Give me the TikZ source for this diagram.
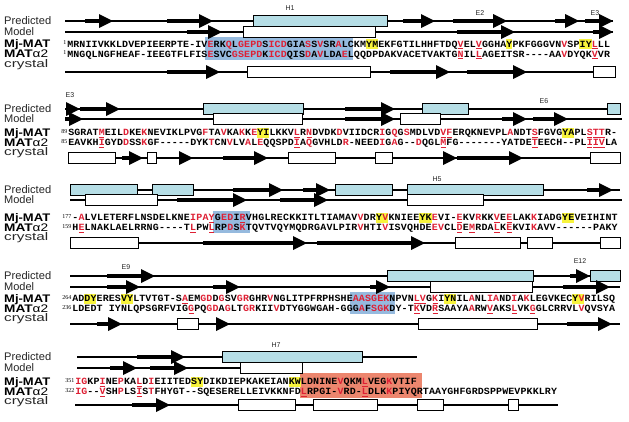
\documentclass[tikz,border=0pt]{standalone}
\usepackage{fontspec}
\usepackage{graphicx}
\newfontfamily\labfont{Liberation Sans}
\newfontfamily\seqff{Liberation Mono}
\newfontfamily\numff{Liberation Serif}
\definecolor{sred}{RGB}{222,32,52}
\definecolor{hblue}{RGB}{182,222,230}
\definecolor{hlblue}{RGB}{150,186,222}
\definecolor{hlyel}{RGB}{248,244,60}
\definecolor{hlsal}{RGB}{236,134,110}
\newsavebox\fitbox
\newcommand\fitw[2]{\sbox\fitbox{#2}\scalebox{\fpeval{(#1)/(\the\wd\fitbox)}}[1]{\usebox\fitbox}}
\newif\ifsequl
\newlength\seqw
\def\seqloop#1{\ifx#1\relax\else\seqchar#1\expandafter\seqloop\fi}
\def\seqchar#1{\if!#1\global\sequltrue\else\seqput#1\global\sequlfalse\fi}
\def\seqput#1{\ifsequl\rlap{\hspace{0.4pt}\textcolor{sred}{\rule[-1.8pt]{\dimexpr\seqw-0.8pt\relax}{0.9pt}}}\fi\makebox[\seqw][c]{\scalebox{1.05}[1]{\seqglyph#1}}}
\def\seqglyph#1{\ifnum`#1>96 \textcolor{sred}{\uppercase{#1}}\else\if.#1\else#1\fi\fi}
\newcommand\seqrow[2][6.1pt]{\setlength\seqw{#1}\seqloop#2\relax}
\newcommand\trkline[3]{\draw[trk] (#2,#1) -- (#3,#1);}
\newcommand\strand[3]{\fill (#2,#1-2.2) rectangle (#3-12,#1+2.2); \fill (#3-14,#1-7) -- (#3,#1) -- (#3-14,#1+7) -- cycle;}
\newcommand\helixb[3]{\draw[hx,fill=hblue] (#2,#1-5.5) rectangle (#3,#1+5.5);}
\newcommand\helixw[3]{\draw[hx,fill=white] (#2,#1-5.5) rectangle (#3,#1+5.5);}
\newcommand\hlc[6][hlyel]{\fill[#1] ({#2+(#5-1)*#3},#4-5) rectangle ({#2+#6*#3},#4+5);}
\begin{document}
\begin{tikzpicture}[x=1pt,y=-1pt,
  trk/.style={line width=1.1pt},
  hx/.style={line width=0.9pt},
  rowlab/.style={anchor=base west, inner sep=0, text=black!85, font=\labfont\fontsize{11}{11}\selectfont},
  toplab/.style={inner sep=0, text=black!85, font=\labfont\fontsize{7}{7}\selectfont},
  seqtxt/.style={anchor=base west, inner sep=0, font=\seqff\bfseries\fontsize{9.5}{9.5}\selectfont},
  numlab/.style={anchor=base east, inner sep=0, font=\numff\fontsize{6}{6}\selectfont}]
\useasboundingbox (0,0) rectangle (629,421);
\fill[white] (0,0) rectangle (629,421);

% ---------------- highlights
\fill[hlblue] (205,37) rectangle (353,60);
\hlc{67}{6.1}{44}{50}{51} \hlc{67}{6.1}{44}{73}{73} \hlc{67}{6.1}{44}{85}{86}
\hlc{68}{6.1}{132.5}{32}{33} \hlc{68}{6.1}{132.5}{82}{83}
\fill[hlblue] (213,211) rectangle (250,233);
\hlc{72}{6.2}{217.5}{50}{51} \hlc{72}{6.2}{217.5}{57}{58} \hlc{72}{6.2}{217.5}{80}{81}
\fill[hlblue] (350,292) rectangle (395,314);
\hlc{72}{6.1}{298.5}{3}{4} \hlc{72}{6.1}{298.5}{9}{10} \hlc{72}{6.1}{298.5}{62}{63} \hlc{72}{6.1}{298.5}{83}{84}
\fill[hlsal] (300,373) rectangle (422,398);
\hlc{75}{6.1}{381.5}{20}{21} \hlc{75}{6.1}{381.5}{36}{37}

% ---------------- row labels
\foreach \b/\p/\m/\ra/\rb/\c in {1/21/32/44/54/63.5, 2/109/119/132.5/142.5/152, 3/190/200/217.5/227.5/237, 4/276/287/298.5/308.5/318, 5/357/368/381.5/391.5/401}{
  \node[rowlab] (pred\b) at (4,\p+3.8) {\fitw{47}{Predicted}};
  \node[rowlab] (model\b) at (4,\m+3.8) {\fitw{30}{Model}};
  \node[rowlab,text=black] (mj\b) at (4,\ra+3.8) {\fitw{46}{\bfseries Mj-MAT}};
  \node[rowlab,text=black] (mat\b) at (4,\rb+3.8) {\fitw{44}{\bfseries MAT\mdseries α2}};
  \node[rowlab] (cry\b) at (4,\c+3.8) {\fitw{44}{crystal}};
}

% ---------------- sequences
\node[numlab] (n1a) at (66.5,44.5) {1};
\node[numlab] (n1b) at (66.5,54.5) {1};
\node[seqtxt] (s1a) at (67,47.2) {\seqrow{MRNIIVKKLDVEPIEERPTE-IVeRKqLgepdSicdGIAsSvSRaLCKMYMEKFGTILHHFTDQ!vEL!vGGHAYPKFGGGVNvSPIY!lLL}};
\node[seqtxt] (s1b) at (67,57.2) {\seqrow{MNGQLNGFHEAF-IEEGTFLFISeSVCgsepdKicdQISdAvLDAeLQQDPDAKVACETVAKTG!nIL!lAGEITSR----AAvDYQK!vVR}};

\node[numlab] (n2a) at (67.5,133) {89};
\node[numlab] (n2b) at (67.5,143) {85};
\node[seqtxt] (s2a) at (68,135.7) {\seqrow{SGRAT!mEILdKEkNEVIKLPVGfTAvKAkKeYILKKV!lR!nDVDKdVIIDCRiGqGsMDLVD!v!fERQKNEVPLaNDT!sFGVGYAPL!s!t!tR-}};
\node[seqtxt] (s2b) at (68,145.7) {\seqrow{EAVKH!iGYDdSSkGF-----DYKtCNvLVaLeQQSPD!iAqGVHLDr-NEEDiGaG--dQGL!mFG-------YATDE!tEECH--PL!i!i!vLA}};

\node[numlab] (n3a) at (71.5,218) {177};
\node[numlab] (n3b) at (71.5,228) {159};
\node[seqtxt] (s3a) at (72,220.7) {\seqrow[6.2pt]{-aLVLETERFLNSDELKNEipa!yGedI!rVHGLRECKKITLTIAMAVvDRYvKNIEEYKeVI-!eKVrKK!vE!eLAKkIADGYEVEIHINT}};
\node[seqtxt] (s3b) at (72,230.7) {\seqrow[6.2pt]{H!eLNAKLAELRRNG----T!lPW!lRPdSkTQVTVQYMQDRGAVLPIRvHTIvISVQHDEevCL!dE!mRDA!lK!eKVIkAVV------PAKY}};

\node[numlab] (n4a) at (71.5,299) {264};
\node[numlab] (n4b) at (71.5,309) {236};
\node[seqtxt] (s4a) at (72,301.7) {\seqrow{ADDYERESVYLTVTGT-S!aEMgdDgSVgrGHRvNGLITPFRPHSHEaasgekNPVN!l!vG!kIYNILaNLiaNDiAkLEGVKECYvRILSQ}};
\node[seqtxt] (s4b) at (72,311.7) {\seqrow{LDEDT.IYNLQPSGRFVIG!gPQgdAgLTgrKIIvDTYGGWGAH-GGGaFsgkDY-T!kVD!rSAAYAaRW!vAKS!lVK!gGLCRRVLvQVSYA}};

\node[numlab] (n5a) at (74.5,382) {351};
\node[numlab] (n5b) at (74.5,392) {322};
\node[seqtxt] (s5a) at (75,384.7) {\seqrow{igKP!iNEpKA!lDiEIITEDSYDIKDIEPKAKEIANKWLDNINEvQKM!lVEGkVTIF}};
\node[seqtxt] (s5b) at (75,394.7) {\seqrow{ig--!vSHpLS!iStFHYGT--SQESERELLEIVKKNFD!lRPGI-vRD-!lDLKkPIYQRTAAYGHFGRDSPPWEVPKKLRY}};

% ---------------- structure labels
\node[toplab] (tH1) at (290,8) {H1};
\node[toplab] (tE2) at (480,13) {E2};
\node[toplab] (tE3a) at (595,13) {E3};
\node[toplab] (tE3b) at (70,95) {E3};
\node[toplab] (tE6) at (544,101) {E6};
\node[toplab] (tH5) at (437,179) {H5};
\node[toplab] (tE9) at (126,267) {E9};
\node[toplab] (tE12) at (580,261) {E12};
\node[toplab] (tH7) at (276,345) {H7};

% ---------------- block 1 tracks
\trkline{21}{65}{613}
\strand{21}{85}{113} \strand{21}{167}{213} \strand{21}{403}{435} \strand{21}{453}{507} \strand{21}{555}{579} \strand{21}{585}{613}
\helixb{21}{253}{387}
\trkline{32}{65}{613}
\strand{32}{187}{222} \strand{32}{457}{515} \strand{32}{593}{613}
\helixw{32}{243}{375}
\trkline{72}{65}{593}
\strand{72}{167}{220} \strand{72}{390}{450} \strand{72}{467}{527}
\helixw{72}{247}{370} \helixw{72}{593}{615}

% ---------------- block 2 tracks
\trkline{109}{65}{620}
\strand{109}{67}{80} \strand{109}{80}{120} \strand{109}{345}{395}
\helixb{109}{203}{303} \helixb{109}{422}{468} \helixb{109}{607}{620}
\trkline{119}{65}{622}
\strand{119}{65}{83} \strand{119}{345}{395} \strand{119}{502}{527} \strand{119}{533}{568}
\helixw{119}{213}{302} \helixw{119}{400}{440}
\trkline{158}{68}{620}
\strand{158}{122}{143} \strand{158}{180}{193} \strand{158}{223}{268} \strand{158}{444}{457} \strand{158}{457}{523}
\helixw{158}{68}{115} \helixw{158}{147}{156} \helixw{158}{288}{335} \helixw{158}{375}{392} \helixw{158}{590}{620}

% ---------------- block 3 tracks
\trkline{190}{70}{620}
\strand{190}{233}{283} \strand{190}{303}{330} \strand{190}{587}{613}
\helixb{190}{70}{137} \helixb{190}{152}{193} \helixb{190}{335}{392} \helixb{190}{407}{543}
\trkline{200}{70}{622}
\strand{200}{177}{247} \strand{200}{280}{328}
\helixw{200}{85}{157} \helixw{200}{407}{483}
\trkline{243}{70}{620}
\strand{243}{203}{307} \strand{243}{317}{425}
\helixw{243}{70}{138} \helixw{243}{455}{520} \helixw{243}{527}{552} \helixw{243}{600}{620}

% ---------------- block 4 tracks
\trkline{276}{70}{620}
\strand{276}{107}{155} \strand{276}{570}{590}
\helixb{276}{387}{533} \helixb{276}{590}{620}
\trkline{287}{70}{620}
\strand{287}{107}{140} \strand{287}{213}{240} \strand{287}{370}{390} \strand{287}{563}{610}
\helixw{287}{430}{532}
\trkline{324}{70}{620}
\strand{324}{97}{122} \strand{324}{217}{230} \strand{324}{567}{612}
\helixw{324}{177}{198} \helixw{324}{418}{537}

% ---------------- block 5 tracks
\trkline{357}{77}{417}
\strand{357}{137}{185}
\helixb{357}{222}{362}
\trkline{368}{77}{302}
\strand{368}{110}{137} \strand{368}{150}{188}
\helixw{368}{240}{302}
\trkline{405}{75}{558}
\strand{405}{132}{170}
\helixw{405}{238}{295} \helixw{405}{313}{377} \helixw{405}{417}{443} \helixw{405}{508}{518}
\end{tikzpicture}
\end{document}
